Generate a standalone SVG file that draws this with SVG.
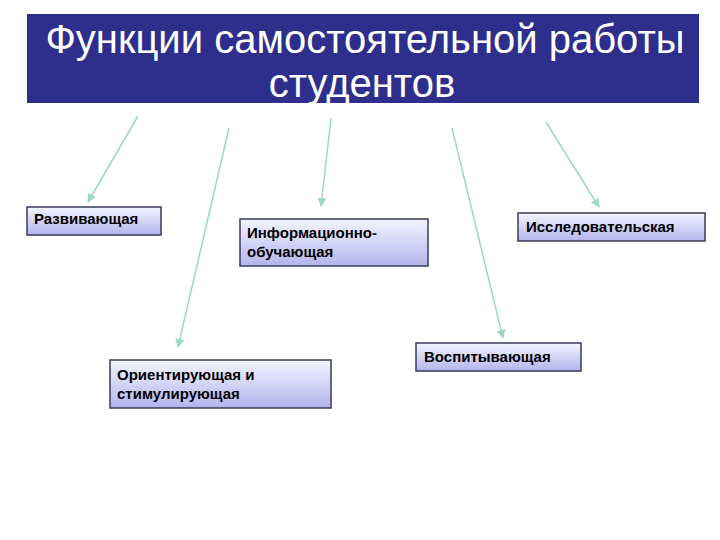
<svg xmlns="http://www.w3.org/2000/svg" width="720" height="540" viewBox="0 0 720 540">
<style>
.box{fill:url(#g);stroke:#3a3a5a;stroke-width:1.5}
.t{font-family:"Liberation Sans",Arial,sans-serif;font-size:15px;font-weight:bold;fill:#000}
.c{stroke:#9fd6c6;stroke-width:1.5;fill:none;marker-end:url(#a)}
</style>
<defs>
<linearGradient id="g" x1="0" y1="0" x2="0" y2="1"><stop offset="0" stop-color="#f4f4ff"/><stop offset="1" stop-color="#b4b4ee"/></linearGradient>
<marker id="a" viewBox="0 0 10 10" refX="9" refY="5" markerWidth="6" markerHeight="6" orient="auto"><path d="M0,0L10,5L0,10z" fill="#9fd6c6"/></marker>
</defs>
<rect width="720" height="540" fill="#fff"/>
<g id="title"><rect x="27" y="14" width="672" height="89" fill="#2e2e8c"/>
<text x="365" y="53" text-anchor="middle" font-family="Liberation Sans,Arial,sans-serif" font-size="40" fill="#fff">Функции самостоятельной работы</text>
<text x="362" y="97" text-anchor="middle" font-family="Liberation Sans,Arial,sans-serif" font-size="40" fill="#fff">студентов</text></g>
<g id="connectors">
<line class="c" x1="138" y1="116" x2="88" y2="202"/>
<line class="c" x1="229" y1="128" x2="178" y2="347"/>
<line class="c" x1="331" y1="118" x2="321" y2="206"/>
<line class="c" x1="452" y1="128" x2="503" y2="338"/>
<line class="c" x1="546" y1="122" x2="599" y2="207"/>
</g>
<g id="n1"><rect class="box" x="27" y="207" width="134" height="28"/><text class="t" x="34" y="224">Развивающая</text></g>
<g id="n2"><rect class="box" x="240" y="219" width="188" height="47"/><text class="t" x="247" y="238">Информационно-</text><text class="t" x="247" y="257">обучающая</text></g>
<g id="n3"><rect class="box" x="518" y="213" width="187" height="28"/><text class="t" x="526" y="232">Исследовательская</text></g>
<g id="n4"><rect class="box" x="416" y="343" width="165" height="28"/><text class="t" x="424" y="362">Воспитывающая</text></g>
<g id="n5"><rect class="box" x="110" y="360" width="221" height="48"/><text class="t" x="117" y="380">Ориентирующая и</text><text class="t" x="117" y="399">стимулирующая</text></g>
</svg>
